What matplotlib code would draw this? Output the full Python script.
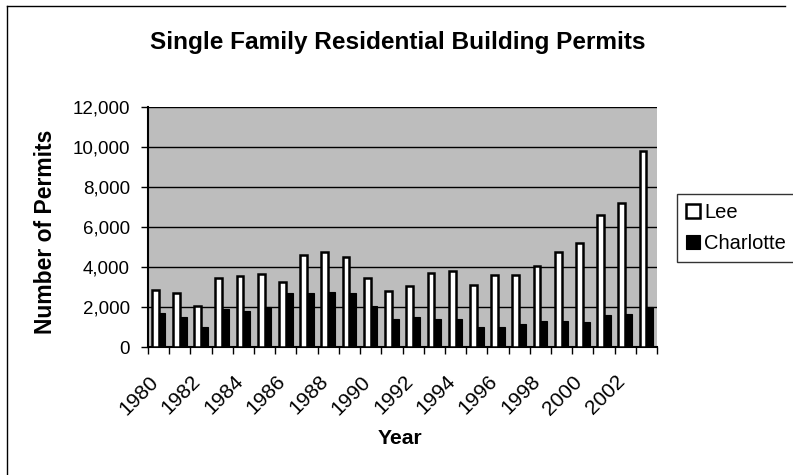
import matplotlib
matplotlib.use("Agg")
import matplotlib.pyplot as plt
from matplotlib.lines import Line2D
from matplotlib.transforms import ScaledTranslation, blended_transform_factory
import numpy as np

plt.rcParams['font.family'] = ['Liberation Sans', 'DejaVu Sans']

years = list(range(1980, 2004))
lee = [2850, 2720, 2050, 3450, 3570, 3630, 3250, 4600, 4770, 4520,
       3430, 2780, 3050, 3720, 3780, 3100, 3600, 3600, 4050, 4750,
       5180, 6600, 7180, 9820]
charlotte = [1680, 1480, 1020, 1920, 1820, 2020, 2720, 2680, 2770, 2720,
             2070, 1400, 1480, 1420, 1400, 1000, 1020, 1150, 1280, 1280,
             1270, 1600, 1650, 1980]
yticks = [0, 2000, 4000, 6000, 8000, 10000, 12000]

W, H = 793, 475
fig = plt.figure(figsize=(W / 100, H / 100), dpi=100)
ax = fig.add_axes([148 / W, 1 - 347 / H, (657 - 148) / W, (347 - 107) / H])

x = np.arange(len(years))
bw = 0.32
ax.set_facecolor('#bdbdbd')
ax.bar(x - bw / 2, lee, bw, color='white', edgecolor='black', linewidth=1.8,
       label='Lee', zorder=3)
ax.bar(x + bw / 2, charlotte, bw, color='black', edgecolor='black', linewidth=0.8,
       label='Charlotte', zorder=3)

ax.set_xlim(-0.5, len(years) - 0.5)
ax.set_ylim(0, 12000)
ax.set_yticks(yticks)
ax.set_yticklabels([f"{v:,}" for v in yticks], fontsize=13.5)
ax.yaxis.grid(True, color='black', linewidth=1.0, zorder=1)
ax.set_axisbelow(True)

# ticks at category boundaries; year labels under every other category
ax.set_xticks(np.arange(-0.5, len(years)))
ax.set_xticklabels([])
ax.tick_params(axis='x', length=5, width=1, direction='out')
ax.tick_params(axis='y', length=5, width=1, direction='out', pad=8)

label_tf = blended_transform_factory(ax.transData, ax.transAxes) + \
    ScaledTranslation(-10 / 100, -25 / 100, fig.dpi_scale_trans)
for xi, yr in zip(x[::2], years[::2]):
    ax.text(xi, 0, str(yr), transform=label_tf, rotation=45, ha='right',
            va='top', rotation_mode='anchor', fontsize=15)

for side in ['top', 'right']:
    ax.spines[side].set_visible(False)
ax.spines['left'].set_linewidth(1.5)
ax.spines['bottom'].set_linewidth(1.5)

fig.text(46 / W, 1 - 232 / H, 'Number of Permits', fontsize=16.5,
         fontweight='bold', rotation=90, ha='center', va='center')
fig.text(400 / W, 1 - 438 / H, 'Year', fontsize=15.2, fontweight='bold',
         ha='center', va='center')
fig.text(398 / W, 1 - 42 / H, 'Single Family Residential Building Permits',
         fontsize=17.6, fontweight='bold', ha='center', va='center')

leg = fig.legend(loc='upper left', bbox_to_anchor=(677 / W, 1 - 194 / H),
                 fontsize=14.5, frameon=True, fancybox=False, handlelength=0.7,
                 handleheight=0.7, handletextpad=0.2, borderpad=0.45,
                 labelspacing=0.6, borderaxespad=0)
leg.get_frame().set_edgecolor('black')
leg.get_frame().set_linewidth(1.0)

# outer chart border (top and left edges)
fig.add_artist(Line2D([7 / W, 7 / W], [1 - 6 / H, 0], color='black', linewidth=1.0))
fig.add_artist(Line2D([7 / W, 785 / W], [1 - 6 / H, 1 - 6 / H], color='black', linewidth=1.0))

fig.savefig('out.png', dpi=100)
